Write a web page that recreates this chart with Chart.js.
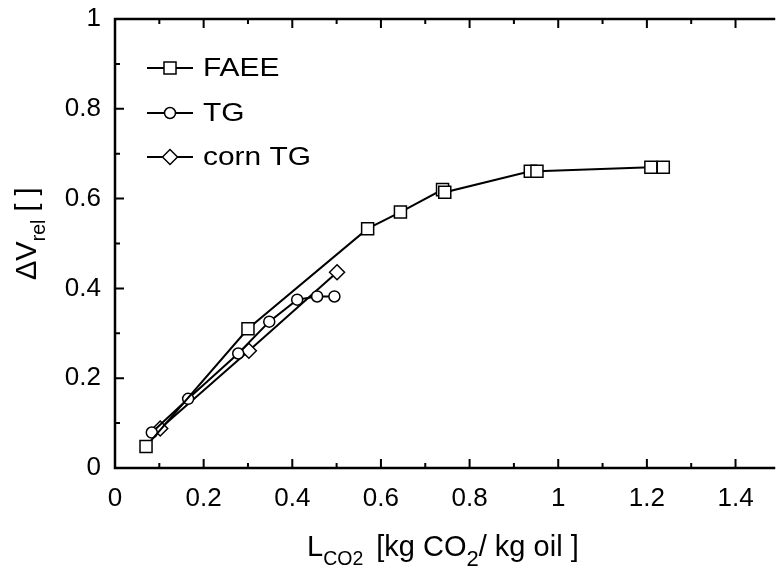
<!DOCTYPE html>
<html>
<head>
<meta charset="utf-8">
<script src="https://cdn.jsdelivr.net/npm/chart.js@4.4.1/dist/chart.umd.min.js"></script>
<style>
  html, body { margin: 0; padding: 0; background: #fff; }
  #chart { display: block; }
</style>
</head>
<body>
<canvas id="chart" width="780" height="569"></canvas>
<script>
const FONT = "'Liberation Sans', Arial, Helvetica, sans-serif"

// CO2 loading [kg CO2 / kg oil] vs. relative volume expansion
const faeeLoad = [0.070, 0.300, 0.570, 0.644, 0.739, 0.744, 0.937, 0.952, 1.209, 1.237]
const faeeDV   = [0.048, 0.310, 0.533, 0.570, 0.620, 0.614, 0.661, 0.661, 0.670, 0.670]

const tgLoad = [0.083, 0.165, 0.278, 0.348, 0.411, 0.456, 0.495]
const tgDV   = [0.079, 0.154, 0.255, 0.326, 0.375, 0.382, 0.382]

const cornLoad = [0.102, 0.302, 0.501]
const cornDV   = [0.088, 0.261, 0.436]

const seriesNames = ["FAEE", "TG", "corn TG"]
const xTicks = [0, 0.2, 0.4, 0.6, 0.8, 1, 1.2, 1.4]
const yTicks = [0, 0.2, 0.4, 0.6, 0.8, 1]

const markers = [
    { pointStyle: "rect", radius: 8.5 },
    { pointStyle: "circle", radius: 5.5 },
    { pointStyle: "rectRot", radius: 7.5 },
]

function points (xs, ys) {
    return xs.map((v, i) => ({ x: v, y: ys[i] }))
}

function series (label, data, marker) {
    return {
        label: label,
        data: data,
        showLine: true,
        borderColor: "#000",
        borderWidth: 2,
        tension: 0,
        pointStyle: marker.pointStyle,
        pointRadius: marker.radius,
        pointHoverRadius: marker.radius,
        pointBackgroundColor: "#fff",
        pointBorderColor: "#000",
        pointBorderWidth: 1.5,
    }
}

function drawMarker (ctx, marker, x, y) {
    ctx.fillStyle = "#fff"
    ctx.strokeStyle = "#000"
    ctx.lineWidth = 1.5
    Chart.helpers.drawPoint(ctx, {
        pointStyle: marker.pointStyle,
        rotation: 0,
        radius: marker.radius,
        borderWidth: 1.5,
    }, x, y)
}

// box lines with inward ticks (0.1 minor, 0.2 major)
const frame = {
    id: "frame",
    afterDraw (chart) {
        const { ctx, chartArea: a } = chart
        const x = chart.scales.x
        const y = chart.scales.y
        ctx.save()
        ctx.strokeStyle = "#000"
        ctx.lineWidth = 2.5
        ctx.lineCap = "square"
        ctx.beginPath()
        ctx.moveTo(a.right + 4, a.top)
        ctx.lineTo(a.left, a.top)
        ctx.lineTo(a.left, a.bottom)
        ctx.lineTo(a.right + 4, a.bottom)
        ctx.stroke()

        ctx.lineWidth = 2
        ctx.lineCap = "butt"
        ctx.beginPath()
        for (let i = 1; i <= 14; i++) {
            const px = x.getPixelForValue(i / 10)
            const len = i % 2 === 0 ? 9 : 5
            ctx.moveTo(px, a.bottom)
            ctx.lineTo(px, a.bottom - len)
            ctx.moveTo(px, a.top)
            ctx.lineTo(px, a.top + len)
        }
        for (let i = 1; i <= 9; i++) {
            const py = y.getPixelForValue(i / 10)
            const len = i % 2 === 0 ? 9 : 5
            ctx.moveTo(a.left, py)
            ctx.lineTo(a.left + len, py)
        }
        ctx.stroke()
        ctx.restore()
    }
}

// legend inside the plot: short line with marker, then name
const legendBox = {
    id: "legendBox",
    afterDraw (chart) {
        const { ctx, chartArea: a } = chart
        const rows = [49, 94, 138]
        ctx.save()
        seriesNames.forEach((name, i) => {
            const ly = a.top + rows[i]
            ctx.strokeStyle = "#000"
            ctx.lineWidth = 2
            ctx.beginPath()
            ctx.moveTo(a.left + 32, ly)
            ctx.lineTo(a.left + 78, ly)
            ctx.stroke()
            drawMarker(ctx, markers[i], a.left + 55, ly)

            ctx.save()
            ctx.translate(a.left + 88, ly)
            ctx.scale(1.15, 1)
            ctx.fillStyle = "#000"
            ctx.font = "26px " + FONT
            ctx.textBaseline = "middle"
            ctx.textAlign = "left"
            ctx.fillText(name, 0, 1)
            ctx.restore()
        })
        ctx.restore()
    }
}

// writes a run of [text, size, baseline shift, extra gap] pieces
function writeRuns (ctx, runs) {
    let pos = 0
    runs.forEach(r => {
        pos += r[3] || 0
        ctx.font = r[1] + "px " + FONT
        ctx.fillText(r[0], pos, r[2])
        pos += ctx.measureText(r[0]).width
    })
}

// axis titles with subscripts
const axisTitles = {
    id: "axisTitles",
    afterDraw (chart) {
        const { ctx } = chart
        ctx.save()
        ctx.fillStyle = "#000"
        ctx.textBaseline = "alphabetic"
        ctx.textAlign = "left"

        ctx.save()
        ctx.translate(307, 556)
        writeRuns(ctx, [
            ["L", 29, 0],
            ["CO2", 19.5, 9],
            [" [kg CO", 29, 0, 5],
            ["2", 22, 10],
            ["/ kg oil ]", 29, 0],
        ])
        ctx.restore()

        ctx.save()
        ctx.translate(36, 280)
        ctx.rotate(-Math.PI / 2)
        writeRuns(ctx, [
            ["\u0394V", 29, 0],
            ["rel", 19.5, 9],
            [" [ ]", 29, 0],
        ])
        ctx.restore()

        ctx.restore()
    }
}

const tickFont = { family: FONT, size: 26 }

const config = {
    type: "scatter",
    data: {
        datasets: [
            series(seriesNames[0], points(faeeLoad, faeeDV), markers[0]),
            series(seriesNames[1], points(tgLoad, tgDV), markers[1]),
            series(seriesNames[2], points(cornLoad, cornDV), markers[2]),
        ]
    },
    options: {
        responsive: false,
        animation: false,
        devicePixelRatio: 1,
        layout: { padding: { top: 19, left: 0, right: 0, bottom: 0 } },
        plugins: {
            legend: { display: false },
            tooltip: { enabled: false },
        },
        scales: {
            x: {
                type: "linear",
                position: "bottom",
                min: 0,
                max: 665 / 450,
                afterBuildTicks: s => { s.ticks = xTicks.map(v => ({ value: v })) },
                afterFit: s => { s.height = 101; s.paddingLeft = 0; s.paddingRight = 0 },
                grid: { display: false, drawTicks: false },
                border: { display: false },
                ticks: {
                    font: tickFont,
                    color: "#000",
                    padding: 15,
                    maxRotation: 0,
                    callback: v => String(+v.toFixed(1)),
                },
            },
            y: {
                type: "linear",
                position: "left",
                min: 0,
                max: 1,
                afterBuildTicks: s => { s.ticks = yTicks.map(v => ({ value: v })) },
                afterFit: s => { s.width = 115; s.paddingTop = 0; s.paddingBottom = 0 },
                grid: { display: false, drawTicks: false },
                border: { display: false },
                ticks: {
                    font: tickFont,
                    color: "#000",
                    padding: 14,
                    callback: v => String(+v.toFixed(1)),
                },
            },
        },
    },
    plugins: [frame, legendBox, axisTitles],
}

const chart = new Chart(document.getElementById("chart").getContext("2d"), config)
</script>
</body>
</html>
